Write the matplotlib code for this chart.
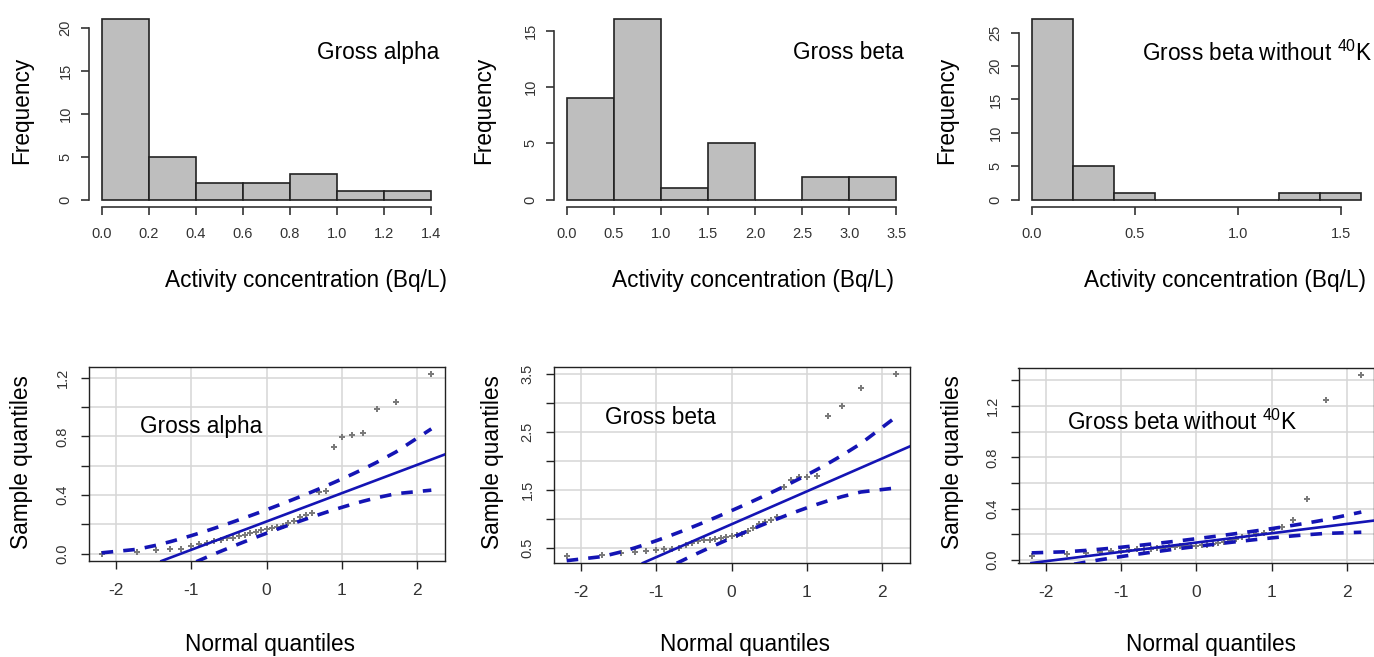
import numpy as np
import matplotlib
matplotlib.use('Agg')
import matplotlib.pyplot as plt
from statistics import NormalDist

plt.rcParams['font.family'] = ['Liberation Sans', 'DejaVu Sans']
plt.rcParams['mathtext.fontset'] = 'custom'
plt.rcParams['mathtext.rm'] = 'Liberation Sans'
plt.rcParams['mathtext.it'] = 'Liberation Sans:italic'
plt.rcParams['mathtext.bf'] = 'Liberation Sans:bold'

# ---------------- data (sorted sample values, Bq/L) ----------------
titles = ['Gross alpha', 'Gross beta', r'Gross beta without $^{\mathrm{40}}$K']

gross_alpha = [0.0, 0.011, 0.027, 0.030, 0.032, 0.056, 0.065, 0.075, 0.085, 0.095,
               0.105, 0.11, 0.12, 0.13, 0.14, 0.15, 0.16, 0.17, 0.175, 0.18,
               0.19, 0.21, 0.225, 0.25, 0.265, 0.28, 0.42, 0.43, 0.727, 0.793,
               0.81, 0.822, 0.986, 1.036, 1.223]

gross_beta = [0.36, 0.38, 0.41, 0.43, 0.45, 0.46, 0.47, 0.48, 0.49, 0.55,
              0.58, 0.62, 0.63, 0.635, 0.645, 0.66, 0.68, 0.70, 0.71, 0.74,
              0.79, 0.84, 0.90, 0.95, 0.98, 1.02, 1.55, 1.66, 1.71, 1.72,
              1.74, 2.77, 2.95, 3.25, 3.49]

gross_beta_no_k40 = [0.034, 0.047, 0.055, 0.062, 0.068, 0.074, 0.079, 0.084, 0.086, 0.090,
                     0.094, 0.098, 0.101, 0.104, 0.107, 0.109, 0.111, 0.113, 0.116, 0.120,
                     0.128, 0.137, 0.145, 0.155, 0.165, 0.180, 0.192, 0.205, 0.215, 0.235,
                     0.262, 0.313, 0.474, 1.247, 1.441]

alpha_bins = [0.0, 0.2, 0.4, 0.6, 0.8, 1.0, 1.2, 1.4]
beta_bins = [0.0, 0.5, 1.0, 1.5, 2.0, 2.5, 3.0, 3.5]
beta_nok_bins = [0.0, 0.2, 0.4, 0.6, 0.8, 1.0, 1.2, 1.4, 1.6]

hist_xticks = [[0.0, 0.2, 0.4, 0.6, 0.8, 1.0, 1.2, 1.4],
               [0.0, 0.5, 1.0, 1.5, 2.0, 2.5, 3.0, 3.5],
               [0.0, 0.5, 1.0, 1.5]]
hist_xticklabels = [['0.0', '0.2', '0.4', '0.6', '0.8', '1.0', '1.2', '1.4'],
                    ['0.0', '0.5', '1.0', '1.5', '2.0', '2.5', '3.0', '3.5'],
                    ['0.0', '0.5', '1.0', '1.5']]
hist_yticks = [[0, 5, 10, 15, 20], [0, 5, 10, 15], [0, 5, 10, 15, 20, 25]]

qq_xticks = [-2, -1, 0, 1, 2]
qq_yticks = [[0.0, 0.2, 0.4, 0.6, 0.8, 1.0, 1.2],
             [0.5, 1.0, 1.5, 2.0, 2.5, 3.0, 3.5],
             [0.0, 0.2, 0.4, 0.6, 0.8, 1.0, 1.2, 1.4]]
qq_yticklabels = [['0.0', '', '0.4', '', '0.8', '', '1.2'],
                  ['0.5', '', '1.5', '', '2.5', '', '3.5'],
                  ['0.0', '', '0.4', '', '0.8', '', '1.2', '']]

samples = [gross_alpha, gross_beta, gross_beta_no_k40]
bins_list = [alpha_bins, beta_bins, beta_nok_bins]

# ---------------- layout helpers ----------------
W, H = 1374, 657
fig = plt.figure(figsize=(W / 100, H / 100), dpi=100)
fig.patch.set_facecolor('white')


def px_axes(l, t, r, b):
    return fig.add_axes([l / W, 1 - b / H, (r - l) / W, (b - t) / H])


def px_text(x, y, s, **kw):
    fig.text(x / W, 1 - y / H, s, **kw)


BIG = 16.3
TICKCOL = '#333333'
BLUE = '#1414B4'

col_left = [88.5, 553.5, 1018.5]
col_w = 356

hist_xlabel_x = [306, 753, 1225]
hist_ylabel_x = [22, 484, 947]
qq_title_x = [140, 605, 1067]
qq_title_y = [427, 417, 422]
qq_ylabel_x = [22, 492, 952]
qq_xlabel_x = [270, 745, 1211]

nd = NormalDist()

for k in range(3):
    data = np.array(samples[k])
    bins = bins_list[k]
    l = col_left[k]

    # ---------- histogram ----------
    ax = px_axes(l, 12, l + col_w, 207)
    counts, _, _ = ax.hist(data, bins=bins, color='#bebebe', edgecolor='#222222',
                           linewidth=1.2)
    b0, b1 = bins[0], bins[-1]
    ax.set_xlim(b0 - 0.04 * (b1 - b0), b1 + 0.04 * (b1 - b0))
    cmax = counts.max()
    ax.set_ylim(-0.04 * cmax, cmax * 1.04)
    for s in ['top', 'right']:
        ax.spines[s].set_visible(False)
    ax.spines['bottom'].set_bounds(hist_xticks[k][0], hist_xticks[k][-1])
    ax.spines['left'].set_bounds(hist_yticks[k][0], hist_yticks[k][-1])
    for s in ['bottom', 'left']:
        ax.spines[s].set_color('#333333')
        ax.spines[s].set_linewidth(1.2)
    ax.set_xticks(hist_xticks[k])
    ax.set_xticklabels(hist_xticklabels[k])
    ax.set_yticks(hist_yticks[k])
    ax.tick_params(axis='both', length=5.5, width=1.2, color='#333333',
                   labelcolor=TICKCOL, labelsize=10.5)
    ax.tick_params(axis='x', pad=9)
    ax.tick_params(axis='y', pad=6, labelrotation=90)
    for t in ax.get_yticklabels():
        t.set_va('center')
    ax.text(0.985 if k < 2 else 0.995, 0.79, titles[k], transform=ax.transAxes,
            ha='right', va='center', fontsize=BIG)
    px_text(hist_xlabel_x[k], 281, 'Activity concentration (Bq/L)', ha='center',
            va='center', fontsize=BIG)
    px_text(hist_ylabel_x[k], 110, 'Frequency', ha='center', va='center',
            rotation=90, fontsize=BIG)

    # ---------- normal QQ plot ----------
    n = len(data)
    P = (np.arange(1, n + 1) - 0.5) / n
    z = np.array([nd.inv_cdf(p) for p in P])
    dens = np.array([nd.pdf(v) for v in z])
    q1, q3 = np.percentile(data, [25, 75])
    zq1, zq3 = nd.inv_cdf(0.25), nd.inv_cdf(0.75)
    slope = (q3 - q1) / (zq3 - zq1)
    intercept = q1 - slope * zq1
    fit = intercept + slope * z
    se = slope / dens * np.sqrt(P * (1 - P) / n)
    zz = nd.inv_cdf(0.975)

    top = 367 if k < 2 else 368
    bottom = 561 if k == 0 else 563
    ax2 = px_axes(l, top, l + col_w, bottom)
    zr = z.max() - z.min()
    ax2.set_xlim(z.min() - 0.04 * zr, z.max() + 0.04 * zr)
    dr = data.max() - data.min()
    ax2.set_ylim(data.min() - 0.04 * dr, data.max() + 0.04 * dr)
    ax2.set_xticks(qq_xticks)
    ax2.set_xticklabels([str(v) if v >= 0 else '-' + str(-v) for v in qq_xticks])
    ax2.set_yticks(qq_yticks[k])
    ax2.set_yticklabels(qq_yticklabels[k])
    ax2.grid(True, color='#d6d6d6', linewidth=1.1)
    ax2.set_axisbelow(True)
    for s in ax2.spines.values():
        s.set_color('#222222')
        s.set_linewidth(1.0)
    ax2.tick_params(axis='both', length=5.5, width=1.0, color='#222222',
                    labelcolor=TICKCOL)
    ax2.tick_params(axis='x', labelsize=12.5, pad=10)
    ax2.tick_params(axis='y', labelsize=10.5, pad=8, labelrotation=90)
    for t in ax2.get_yticklabels():
        t.set_va('center')

    ax2.plot(z, data, linestyle='none', marker='P', markersize=4,
             color='#7a7a7a', markeredgewidth=0, zorder=3)
    ax2.axline((0, intercept), slope=slope, color=BLUE, linewidth=1.9, zorder=4)
    for env in (fit + zz * se, fit - zz * se):
        ln, = ax2.plot(z, env, color=BLUE, linewidth=2.6, zorder=4)
        ln.set_dashes([3.2, 2.8])

    px_text(qq_title_x[k], qq_title_y[k], titles[k], ha='left', va='center',
            fontsize=BIG)
    px_text(qq_ylabel_x[k], 462, 'Sample quantiles', ha='center', va='center',
            rotation=90, fontsize=BIG)
    px_text(qq_xlabel_x[k], 645, 'Normal quantiles', ha='center', va='center',
            fontsize=BIG)

fig.savefig('out.png', dpi=100, facecolor='white')
